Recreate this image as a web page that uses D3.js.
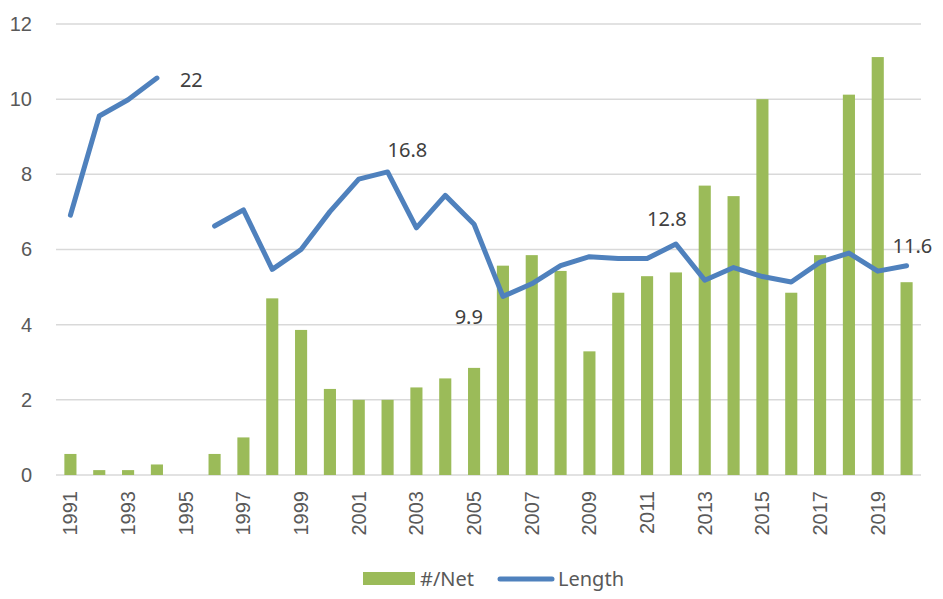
<!DOCTYPE html>
<html>
<head>
<meta charset="utf-8">
<script src="https://cdn.jsdelivr.net/npm/d3@7"></script>
<style>
  body { margin: 0; background: #fff; }
  svg { display: block; font-family: "Noto Sans", "Open Sans", sans-serif; }
  .tick text { fill: #595959; font-size: 20px; }
  .grid line { stroke: #d9d9d9; stroke-width: 1.5; }
  .label { fill: #404040; font-size: 20px; }
  .legend text { fill: #595959; font-size: 20px; }
</style>
</head>
<body>
<svg id="chart" width="943" height="599"></svg>
<script>
// Chart data
const years = d3.range(1991, 2021);
const perNet = [0.56, 0.13, 0.13, 0.28, 0, 0.56, 1.0, 4.7, 3.86, 2.29,
  2.0, 2.0, 2.33, 2.57, 2.85, 5.57, 5.85, 5.43, 3.29, 4.85,
  5.29, 5.39, 7.7, 7.42, 10.0, 4.85, 5.85, 10.12, 11.12, 5.13];
const lengths = [14.4, 19.9, 20.8, 22.0, null, 13.8, 14.7, 11.4, 12.5, 14.6,
  16.4, 16.8, 13.7, 15.5, 13.9, 9.9, 10.6, 11.6, 12.1, 12.0,
  12.0, 12.8, 10.8, 11.5, 11.0, 10.7, 11.8, 12.3, 11.3, 11.6];
const yTicks = [0, 2, 4, 6, 8, 10, 12];
const labelYears = [1994, 2002, 2006, 2012, 2020];

// label placement relative to the point: [dx, dy, anchor]
const labelPos = {
  1994: [23, 9, "start"],
  2002: [0, -15, "start"],
  2006: [-20, 28, "end"],
  2012: [-9, -18, "middle"],
  2020: [-14, -13, "start"]
};

const svg = d3.select("#chart");
const margin = {left: 56, right: 22, top: 24, bottom: 124};
const width = 943 - margin.left - margin.right;
const height = 599 - margin.top - margin.bottom;

const x = d3.scaleBand().domain(years).range([0, width]).paddingInner(0.58).paddingOuter(0.29);
const y = d3.scaleLinear().domain([0, 12]).range([height, 0]);
const y2 = d3.scaleLinear().domain([0, 25]).range([height, 0]);
const cx = d => x(d) + x.bandwidth() / 2;

const g = svg.append("g").attr("transform", `translate(${margin.left},${margin.top})`);

// gridlines
g.append("g").attr("class", "grid")
  .selectAll("line").data(yTicks).join("line")
  .attr("x1", 0).attr("x2", width)
  .attr("y1", d => y(d)).attr("y2", d => y(d));

// y axis labels
const yAxis = g.append("g").call(d3.axisLeft(y).tickValues(yTicks).tickSize(0).tickPadding(24));
yAxis.select(".domain").remove();

// x axis labels
const xAxis = g.append("g").attr("transform", `translate(0,${height})`)
  .call(d3.axisBottom(x).tickValues(years.filter(d => (d - 1991) % 2 === 0)).tickSize(0));
xAxis.select(".domain").remove();
xAxis.selectAll("text")
  .attr("transform", "rotate(-90)")
  .attr("text-anchor", "end")
  .attr("x", -16).attr("y", 0).attr("dy", "0.35em");

// bars
g.append("g").selectAll("rect").data(years).join("rect")
  .attr("x", d => x(d))
  .attr("width", x.bandwidth())
  .attr("y", (d, i) => y(perNet[i]))
  .attr("height", (d, i) => height - y(perNet[i]))
  .attr("fill", "#9bbb59");

// line
const line = d3.line()
  .defined((d, i) => lengths[i] != null)
  .x(d => cx(d))
  .y((d, i) => y2(lengths[i]));

g.append("path").datum(years)
  .attr("d", line)
  .attr("fill", "none")
  .attr("stroke", "#4f81bd")
  .attr("stroke-width", 5)
  .attr("stroke-linejoin", "round")
  .attr("stroke-linecap", "round");

// data labels
g.append("g").selectAll("text").data(labelYears).join("text")
  .attr("class", "label")
  .attr("x", d => cx(d) + labelPos[d][0])
  .attr("y", d => y2(lengths[years.indexOf(d)]) + labelPos[d][1])
  .attr("text-anchor", d => labelPos[d][2])
  .text(d => d3.format("")(lengths[years.indexOf(d)]));

// legend
const legend = svg.append("g").attr("class", "legend");
legend.append("rect").attr("x", 363).attr("y", 572).attr("width", 52).attr("height", 13).attr("fill", "#9bbb59");
legend.append("text").attr("x", 420).attr("y", 586).text("#/Net");
legend.append("line").attr("x1", 500).attr("x2", 552).attr("y1", 579).attr("y2", 579)
  .attr("stroke", "#4f81bd").attr("stroke-width", 5).attr("stroke-linecap", "round");
legend.append("text").attr("x", 558).attr("y", 586).text("Length");
</script>
</body>
</html>
